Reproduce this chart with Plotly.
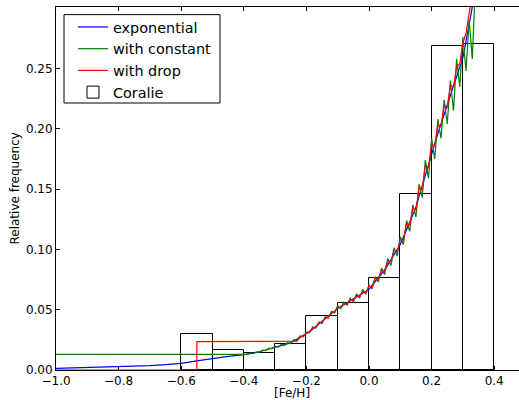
import plotly.graph_objects as go

# ---- data ----
fe_grid = [round(-0.39 + 0.01 * i, 2) for i in range(74)]  # -0.39 .. 0.34

# exponential (blue): low-metallicity tail, then the common curve
exp_tail_x = [-1.0, -0.95, -0.9, -0.85, -0.8, -0.75, -0.7, -0.65, -0.6, -0.55, -0.5, -0.45, -0.4]
exp_tail_y = [0.0014, 0.0017, 0.0020, 0.0024, 0.0028, 0.0032, 0.0037, 0.0045, 0.0055, 0.0075, 0.0095, 0.0113, 0.0128]
exp_curve = [
    0.0130, 0.0135, 0.0140, 0.0145, 0.0150, 0.0158, 0.0166, 0.0174, 0.0182, 0.0190,
    0.0197, 0.0204, 0.0211, 0.0218, 0.0225, 0.0240, 0.0255, 0.0270, 0.0285, 0.0300,
    0.0320, 0.0340, 0.0360, 0.0380, 0.0400, 0.0422, 0.0444, 0.0466, 0.0488, 0.0510,
    0.0525, 0.0540, 0.0555, 0.0570, 0.0585, 0.0602, 0.0619, 0.0636, 0.0653, 0.0670,
    0.0702, 0.0734, 0.0766, 0.0798, 0.0830, 0.0872, 0.0914, 0.0956, 0.0998, 0.1040,
    0.1102, 0.1164, 0.1226, 0.1288, 0.1350, 0.1440, 0.1530, 0.1620, 0.1710, 0.1800,
    0.1880, 0.1960, 0.2040, 0.2120, 0.2200, 0.2278, 0.2356, 0.2434, 0.2512, 0.2590,
    0.2727, 0.2863, 0.3000, 0.3150,
]

# with constant (green)
const_level_x = [-1.0]
const_level_y = [0.013]
const_curve = [
    0.0130, 0.0141, 0.0137, 0.0150, 0.0147, 0.0164, 0.0160, 0.0181, 0.0176, 0.0197,
    0.0190, 0.0212, 0.0205, 0.0227, 0.0219, 0.0251, 0.0246, 0.0282, 0.0276, 0.0314,
    0.0309, 0.0356, 0.0348, 0.0398, 0.0386, 0.0441, 0.0430, 0.0487, 0.0472, 0.0534,
    0.0508, 0.0563, 0.0538, 0.0596, 0.0565, 0.0631, 0.0596, 0.0668, 0.0628, 0.0705,
    0.0672, 0.0775, 0.0730, 0.0845, 0.0790, 0.0925, 0.0865, 0.1015, 0.0945, 0.1105,
    0.1040, 0.1240, 0.1150, 0.1370, 0.1270, 0.1540, 0.1430, 0.1740, 0.1590, 0.1920,
    0.1750, 0.2080, 0.1920, 0.2240, 0.2040, 0.2400, 0.2150, 0.2580, 0.2350, 0.2760,
    0.2480, 0.2900, 0.2580, 0.3200,
]

# with drop (red)
drop_step_x = [-1.0, -0.55, -0.55, -0.235]
drop_step_y = [0.0, 0.0, 0.0235, 0.0235]
drop_curve = [
    0.0240, 0.0272, 0.0281, 0.0305,
    0.0316, 0.0346, 0.0352, 0.0390, 0.0394, 0.0432, 0.0438, 0.0477, 0.0481, 0.0522,
    0.0518, 0.0553, 0.0547, 0.0585, 0.0575, 0.0618, 0.0609, 0.0653, 0.0643, 0.0693,
    0.0690, 0.0760, 0.0752, 0.0828, 0.0814, 0.0906, 0.0898, 0.0992, 0.0978, 0.1082,
    0.1080, 0.1215, 0.1200, 0.1342, 0.1328, 0.1512, 0.1498, 0.1692, 0.1678, 0.1872,
    0.1858, 0.2032, 0.2018, 0.2192, 0.2178, 0.2362, 0.2348, 0.2512, 0.2538, 0.2712,
    0.2790, 0.2960, 0.3100,
]

# Coralie histogram
bin_left = [-0.6, -0.5, -0.4, -0.3, -0.2, -0.1, 0.0, 0.1, 0.2, 0.3]
coralie = [0.0296, 0.0168, 0.0138, 0.0216, 0.0450, 0.0553, 0.0760, 0.1457, 0.2687, 0.2700]
bin_width = 0.1

x_ticks = [-1.0, -0.8, -0.6, -0.4, -0.2, 0.0, 0.2, 0.4]
y_ticks = [0.00, 0.05, 0.10, 0.15, 0.20, 0.25]

# ---- figure ----
FONT = "DejaVu Sans"
fig = go.Figure()

fig.add_trace(go.Scatter(
    x=exp_tail_x + fe_grid, y=exp_tail_y + exp_curve, mode="lines",
    name="exponential", line=dict(color="#0000ff", width=1.2),
))
fig.add_trace(go.Scatter(
    x=const_level_x + fe_grid, y=const_level_y + const_curve, mode="lines",
    name="with constant", line=dict(color="#008000", width=1.2),
))
fig.add_trace(go.Scatter(
    x=drop_step_x + fe_grid[16:73], y=drop_step_y + drop_curve, mode="lines",
    name="with drop", line=dict(color="#ff0000", width=1.2),
))
fig.add_trace(go.Bar(
    x=[b + bin_width / 2 for b in bin_left], y=coralie, width=bin_width,
    name="Coralie", marker=dict(color="rgba(255,255,255,0)", line=dict(color="black", width=1)),
))

# The original picture is cropped at 519 px, mid-way through the axes,
# so the figure is wider than the window and the overflow is hidden.
PW = 504.0  # plot-area width in px (313 px per unit of [Fe/H])
fig.update_layout(
    width=560, height=400,
    margin=dict(l=56, r=0, t=7, b=30),
    paper_bgcolor="white", plot_bgcolor="white",
    font=dict(family=FONT, size=12, color="black"),
    bargap=0,
    showlegend=True,
    legend=dict(
        x=17 / PW, y=0.9887, xanchor="left", yanchor="top",
        bgcolor="rgba(0,0,0,0)", borderwidth=0,
        font=dict(family=FONT, size=14.4, color="black"),
        tracegroupgap=0,
    ),
    xaxis=dict(
        range=[-1.0, -1.0 + PW / 313.0], tickvals=x_ticks, tickformat=".1f",
        showline=True, linecolor="black", linewidth=1, mirror="ticks",
        ticks="inside", ticklen=4, tickcolor="black", showgrid=False, zeroline=False,
    ),
    yaxis=dict(
        range=[0, 0.301], tickvals=y_ticks, tickformat=".2f",
        showline=True, linecolor="black", linewidth=1, mirror=False,
        ticks="inside", ticklen=4, tickcolor="black", showgrid=False, zeroline=False,
    ),
    shapes=[
        dict(type="rect", xref="paper", yref="paper", x0=8 / PW, x1=164 / PW, y0=0.7355, y1=0.979,
             fillcolor="white", line=dict(color="black", width=1), layer="above"),
    ],
    annotations=[
        dict(text="[Fe/H]", xref="paper", yref="paper", x=236 / PW, y=-0.0634,
             xanchor="center", yanchor="middle", showarrow=False,
             font=dict(family=FONT, size=12)),
        dict(text="Relative frequency", xref="paper", yref="paper", x=-42 / PW, y=0.5,
             xanchor="center", yanchor="middle", textangle=-90, showarrow=False,
             font=dict(family=FONT, size=12)),
    ],
)

fig.write_html(
    "out.html", config={"displayModeBar": False},
    post_script=("document.body.style.margin='0px';"
                 "document.body.style.overflow='hidden';"
                 "document.documentElement.style.overflow='hidden';"),
)
